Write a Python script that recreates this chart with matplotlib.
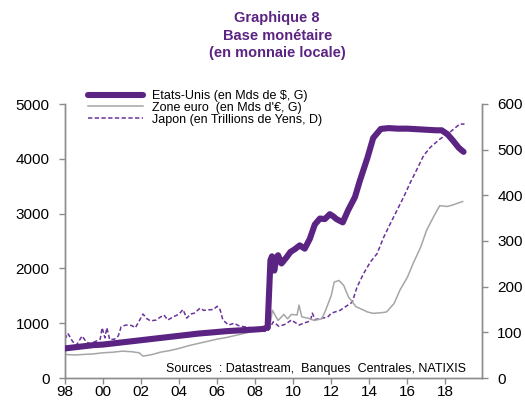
import matplotlib.pyplot as plt

plt.rcParams['font.family'] = ['Liberation Sans', 'DejaVu Sans']

# Etats-Unis, Mds de $ (left axis)
us_years = [1998.0, 1998.5, 1999.0, 1999.5, 2000.0, 2000.5, 2001.0, 2001.5, 2002.0, 2002.5,
            2003.0, 2003.5, 2004.0, 2004.5, 2005.0, 2005.5, 2006.0, 2006.5, 2007.0, 2007.5,
            2008.0, 2008.4, 2008.65, 2008.72, 2008.8, 2008.88, 2009.0, 2009.12, 2009.2, 2009.38,
            2009.64, 2009.85, 2010.08, 2010.34, 2010.6, 2010.87, 2011.13, 2011.4, 2011.66, 2011.92,
            2012.1, 2012.27, 2012.6, 2012.88, 2013.24, 2013.5, 2013.9, 2014.2, 2014.6, 2015.0,
            2015.5, 2016.0, 2016.5, 2017.0, 2017.5, 2017.8, 2018.1, 2018.4, 2018.7, 2018.95]
us = [540, 560, 580, 600, 610, 630, 650, 670, 690, 710,
      730, 750, 770, 790, 810, 825, 840, 855, 865, 875,
      885, 895, 920, 1500, 2150, 2220, 1960, 2200, 2240, 2090,
      2200, 2300, 2350, 2420, 2360, 2540, 2800, 2910, 2900, 2990,
      2950, 2900, 2840, 3060, 3300, 3600, 4020, 4380, 4545, 4560,
      4550, 4550, 4540, 4530, 4520, 4520, 4450, 4330, 4200, 4127]

# Zone euro, Mds d'EUR (left axis)
eu_years = [1998.0, 1998.5, 1999.0, 1999.5, 2000.0, 2000.5, 2001.0, 2001.5, 2001.9, 2002.1,
            2002.3, 2002.6, 2003.0, 2003.5, 2004.0, 2004.5, 2005.0, 2005.5, 2006.0, 2006.5,
            2007.0, 2007.5, 2008.0, 2008.5, 2008.75, 2008.9, 2009.2, 2009.5, 2009.7, 2009.9,
            2010.2, 2010.3, 2010.45, 2010.8, 2011.1, 2011.5, 2011.7, 2012.0, 2012.15, 2012.4,
            2012.65, 2012.9, 2013.1, 2013.3, 2013.5, 2013.9, 2014.2, 2014.6, 2014.9, 2015.3,
            2015.6, 2016.0, 2016.3, 2016.7, 2017.0, 2017.4, 2017.7, 2018.1, 2018.4, 2018.9]
eu = [430, 420, 430, 440, 460, 470, 490, 480, 460, 400,
      410, 430, 470, 500, 540, 590, 630, 670, 710, 740,
      780, 820, 860, 880, 900, 1236, 1050, 1160, 1080, 1160,
      1150, 1330, 1115, 1090, 1050, 1080, 1236, 1510, 1750, 1780,
      1690, 1480, 1390, 1300, 1270, 1205, 1180, 1190, 1205, 1360,
      1600, 1840, 2090, 2390, 2690, 2960, 3145, 3130, 3160, 3220]

# Japon, Trillions de Yens (right axis)
jp_years = [1998.0, 1998.15, 1998.4, 1998.6, 1998.9, 1999.1, 1999.3, 1999.6, 1999.85, 1999.95,
            2000.1, 2000.2, 2000.35, 2000.6, 2000.8, 2000.95, 2001.2, 2001.5, 2001.7, 2001.9,
            2002.1, 2002.3, 2002.5, 2002.8, 2003.0, 2003.2, 2003.4, 2003.7, 2004.0, 2004.2,
            2004.4, 2004.6, 2004.8, 2005.1, 2005.3, 2005.5, 2005.8, 2006.0, 2006.15, 2006.3,
            2006.6, 2006.9, 2007.1, 2007.3, 2007.6, 2008.0, 2008.3, 2008.5, 2008.7, 2008.95,
            2009.25, 2009.6, 2009.9, 2010.3, 2010.55, 2010.9, 2011.0, 2011.15, 2011.5, 2011.8,
            2012.0, 2012.45, 2013.1, 2013.35, 2013.7, 2014.05, 2014.4, 2014.75, 2015.1, 2015.45,
            2015.8, 2016.15, 2016.5, 2016.85, 2017.2, 2017.7, 2018.2, 2018.75, 2019.0]
jp = [85, 98, 80, 72, 92, 80, 75, 80, 85, 110,
      88, 110, 84, 85, 92, 112, 116, 115, 110, 125,
      140, 130, 125, 127, 133, 138, 127, 134, 140, 150,
      131, 140, 142, 153, 148, 149, 150, 157, 150, 127,
      116, 120, 115, 113, 111, 109, 105, 102, 105, 123,
      113, 118, 127, 116, 120, 125, 142, 128, 131, 133,
      142, 148, 166, 199, 229, 254, 272, 308, 338, 367,
      396, 428, 457, 487, 505, 523, 537, 556, 556]

year_ticks = list(range(1998, 2019, 2))
year_labels = ['%02d' % (y % 100) for y in year_ticks]

purple = '#5b2483'
grey_axis = '#8c8c8c'

fig = plt.figure(figsize=(5.25, 4.03), dpi=100)
ax = fig.add_axes([65 / 525, 1 - 378 / 403, 417 / 525, 274 / 403])
ax2 = ax.twinx()

l_us, = ax.plot(us_years, us, color=purple, lw=4.4, solid_capstyle='round',
                solid_joinstyle='round', zorder=3)
l_eu, = ax.plot(eu_years, eu, color='#a6a6a6', lw=1.1, zorder=2)
l_jp, = ax2.plot(jp_years, jp, color='#6a329a', lw=1.1, dashes=(2.8, 1.6))

ax.set_zorder(ax2.get_zorder() + 1)
ax.patch.set_visible(False)

ax.set_xlim(1998, 2019.92)
ax.set_ylim(0, 5000)
ax2.set_ylim(0, 600)
ax.set_xticks(year_ticks)
ax.set_xticklabels(year_labels)
ax.set_yticks(range(0, 5001, 1000))
ax2.set_yticks(range(0, 601, 100))

for a in (ax, ax2):
    a.spines['top'].set_visible(False)
    for s in ('left', 'right', 'bottom'):
        a.spines[s].set_color(grey_axis)
        a.spines[s].set_linewidth(1.0)
    a.tick_params(direction='out', length=4, width=1, color=grey_axis,
                  labelsize=11, pad=7, labelcolor='black')
ax.tick_params(axis='x', pad=1)

ax.text(0.962, 0.012, 'Sources  : Datastream,  Banques  Centrales, NATIXIS',
        transform=ax.transAxes, ha='right', va='bottom', fontsize=9)

fig.legend([l_us, l_eu, l_jp],
           ['Etats-Unis (en Mds de $, G)', "Zone euro  (en Mds d'€, G)",
            'Japon (en Trillions de Yens, D)'],
           loc='upper left', bbox_to_anchor=(88 / 525, 1 - 90 / 403),
           frameon=False, fontsize=9, handlelength=4.4, handletextpad=0.7,
           labelspacing=-0.02, borderpad=0, borderaxespad=0)

fig.text(0.528, 0.972, 'Graphique 8\nBase monétaire\n(en monnaie locale)',
         ha='center', va='top', fontsize=10.5, fontweight='bold',
         color=purple, linespacing=1.3)

fig.savefig('out.png', dpi=100)
